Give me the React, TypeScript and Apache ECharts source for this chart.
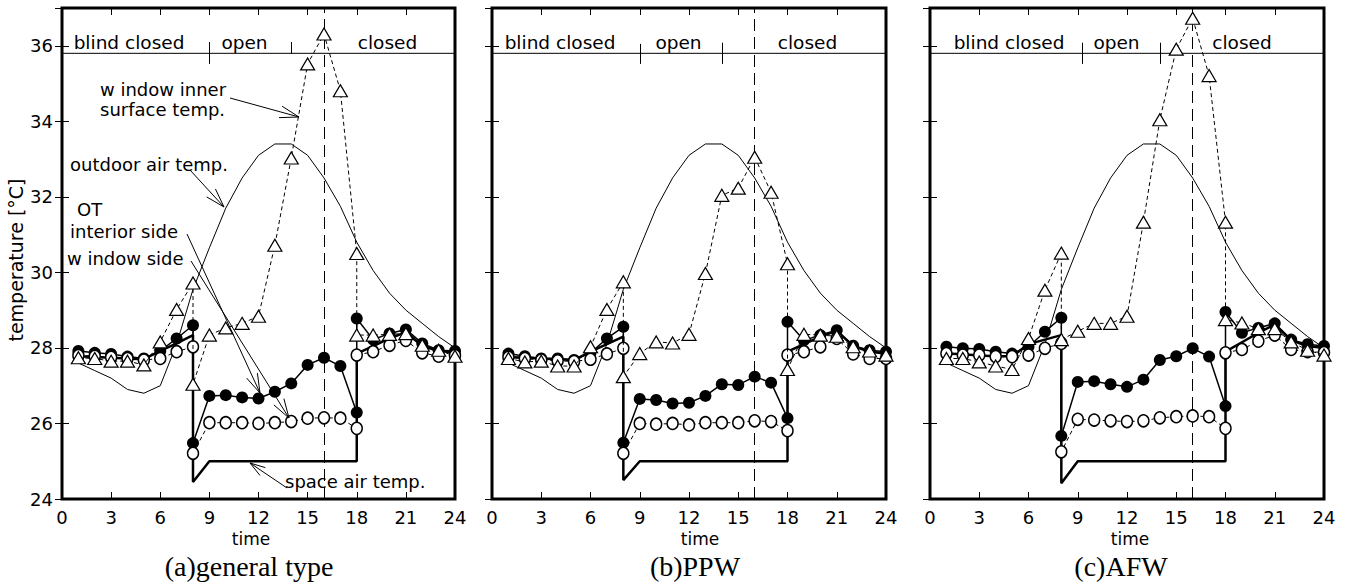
import React, { useEffect, useRef } from "react";
import * as echarts from "echarts";

// ---------------- data ----------------
const hours = [1, 2, 3, 4, 5, 6, 7, 8, 9, 10, 11, 12, 13, 14, 15, 16, 17, 18, 19, 20, 21, 22, 23, 24];
const switchHours = [8, 18];

const outdoorAir = [27.6, 27.4, 27.2, 26.9, 26.8, 27.0, 28.1, 29.55, 30.65, 31.7, 32.5, 33.1, 33.4, 33.4, 33.1, 32.5, 31.75, 30.8, 30.05, 29.45, 29.0, 28.65, 28.3, 28.0];

// (a) general type
const surfA = [27.74, 27.72, 27.65, 27.65, 27.55, 28.16, 29.02, 29.72, 28.34, 28.53, 28.65, 28.84, 30.72, 33.03, 35.52, 36.31, 34.81, 30.5, 28.34, 28.36, 28.38, 28.07, 27.94, 27.78];
const surfJumpA = [27.04, 28.34];
const otWinA = [27.92, 27.87, 27.84, 27.77, 27.72, 27.92, 28.25, 28.6, 26.73, 26.75, 26.69, 26.66, 26.84, 27.06, 27.55, 27.74, 27.52, 26.29, 28.22, 28.38, 28.49, 28.12, 27.94, 27.92];
const otWinJumpA = [25.48, 28.78];
const otIntA = [27.8, 27.78, 27.75, 27.72, 27.68, 27.72, 27.9, 28.03, 26.02, 26.02, 26.02, 26.0, 26.02, 26.05, 26.14, 26.15, 26.14, 25.87, 27.9, 28.07, 28.2, 27.87, 27.78, 27.8];
const otIntJumpA = [25.21, 27.81];
const airA = [27.78, 27.76, 27.74, 27.72, 27.7, 27.92, 28.12, 28.34, 25.0, 25.0, 25.0, 25.0, 25.0, 25.0, 25.0, 25.0, 25.0, 25.0, 28.05, 28.25, 28.42, 28.05, 27.92, 27.88];
const airJumpA = [24.45, 27.85];

// (b) PPW
const surfB = [27.72, 27.63, 27.65, 27.52, 27.52, 28.03, 29.02, 29.75, 27.85, 28.16, 28.13, 28.36, 29.97, 32.04, 32.23, 33.05, 32.12, 30.23, 28.36, 28.34, 28.31, 28.03, 27.92, 27.81];
const surfJumpB = [27.24, 27.43];
const otWinB = [27.85, 27.78, 27.72, 27.72, 27.68, 27.87, 28.25, 28.56, 26.65, 26.62, 26.53, 26.55, 26.73, 27.04, 27.02, 27.24, 27.08, 26.14, 28.2, 28.34, 28.47, 28.06, 27.94, 27.9];
const otWinJumpB = [25.49, 28.69];
const otIntB = [27.75, 27.72, 27.68, 27.66, 27.64, 27.7, 27.84, 27.99, 26.0, 25.98, 26.0, 25.96, 26.02, 26.02, 26.02, 26.07, 26.05, 25.81, 27.9, 28.03, 28.25, 27.84, 27.72, 27.72];
const otIntJumpB = [25.21, 27.81];
const airB = [27.76, 27.74, 27.72, 27.7, 27.68, 27.9, 28.1, 28.3, 25.0, 25.0, 25.0, 25.0, 25.0, 25.0, 25.0, 25.0, 25.0, 25.0, 28.1, 28.3, 28.45, 28.05, 27.9, 27.85];
const airJumpB = [24.5, 27.9];

// (c) AFW
const surfC = [27.72, 27.72, 27.63, 27.52, 27.43, 28.25, 29.53, 30.51, 28.44, 28.65, 28.65, 28.84, 31.33, 34.04, 35.91, 36.73, 35.21, 31.33, 28.66, 28.51, 28.51, 28.16, 27.94, 27.81];
const surfJumpC = [28.22, 28.75];
const otWinC = [28.03, 27.99, 27.97, 27.9, 27.85, 28.03, 28.43, 28.8, 27.1, 27.12, 27.04, 26.97, 27.16, 27.68, 27.78, 27.99, 27.77, 26.46, 28.4, 28.53, 28.65, 28.22, 28.1, 28.05];
const otWinJumpC = [25.67, 28.95];
const otIntC = [27.85, 27.81, 27.81, 27.77, 27.77, 27.81, 27.99, 28.12, 26.11, 26.09, 26.07, 26.05, 26.07, 26.15, 26.18, 26.2, 26.18, 25.87, 27.96, 28.18, 28.34, 27.96, 27.9, 27.88];
const otIntJumpC = [25.25, 27.87];
const airC = [27.85, 27.83, 27.8, 27.78, 27.78, 28.1, 28.22, 28.34, 25.0, 25.0, 25.0, 25.0, 25.0, 25.0, 25.0, 25.0, 25.0, 25.0, 28.15, 28.4, 28.62, 28.2, 28.05, 28.0];
const airJumpC = [24.42, 27.9];

const blindLineTemp = 35.8;
const blindTicksA = [9, 14];
const blindTicksB = [9, 14];
const blindTicksC = [9.25, 14];
const peakHour = 16;

const xTicks = { min: 0, max: 24, interval: 3 };
const yTicks = { min: 24, max: 37, interval: 2, lastLabel: 36 };

const regionLabels = ["blind closed", "open", "closed"];
const captions = ["(a)general type", "(b)PPW", "(c)AFW"];

// ---------------- layout ----------------
const gridLefts = [62, 492, 930];
const gridWidths = [393, 394, 394];
const gridTop = 8;
const gridHeight = 491;
const SANS = "DejaVu Sans";
const SERIF = "Liberation Serif";

function withJumps(values: number[], jumps: number[]) {
  const out: number[][] = [];
  hours.forEach((h, i) => {
    out.push([h, values[i]]);
    const k = switchHours.indexOf(h);
    if (k >= 0) out.push([h, jumps[k]]);
  });
  return out;
}

const panels = [
  { surf: surfA, surfJ: surfJumpA, win: otWinA, winJ: otWinJumpA, int: otIntA, intJ: otIntJumpA, air: airA, airJ: airJumpA, ticks: blindTicksA, blindTickTop: [36.1, 36.1], blindTickBot: [35.52, 35.79] },
  { surf: surfB, surfJ: surfJumpB, win: otWinB, winJ: otWinJumpB, int: otIntB, intJ: otIntJumpB, air: airB, airJ: airJumpB, ticks: blindTicksB, blindTickTop: [36.05, 36.08], blindTickBot: [35.52, 35.52] },
  { surf: surfC, surfJ: surfJumpC, win: otWinC, winJ: otWinJumpC, int: otIntC, intJ: otIntJumpC, air: airC, airJ: airJumpC, ticks: blindTicksC, blindTickTop: [36.08, 36.08], blindTickBot: [35.52, 35.52] },
];

const regionLabelPos = [
  [[129, 42], [244.5, 42], [387.5, 42]],
  [[560, 42], [678.5, 42], [807.5, 42]],
  [[1009, 42], [1116.5, 42], [1242, 42]],
];
const timePos = [[251, 539], [700, 539], [1130, 539]];
const captionPos = [[249, 566], [695, 566], [1121, 566]];

function arrow(x1: number, y1: number, x2: number, y2: number, len = 20, ang = 0.3) {
  const a = Math.atan2(y1 - y2, x1 - x2);
  const els: any[] = [
    { type: "line", shape: { x1, y1, x2, y2 }, style: { stroke: "#000", lineWidth: 1 }, z: 100 },
  ];
  [-ang, ang].forEach((d) => {
    els.push({
      type: "line",
      shape: { x1: x2, y1: y2, x2: x2 + len * Math.cos(a + d), y2: y2 + len * Math.sin(a + d) },
      style: { stroke: "#000", lineWidth: 1 },
      z: 100,
    });
  });
  return els;
}

function text(t: string, x: number, y: number, size: number, align = "left", family = SANS, extra: any = {}) {
  return {
    type: "text",
    x,
    y,
    z: 100,
    ...extra,
    style: { text: t, fill: "#000", fontSize: size, fontFamily: family, align, verticalAlign: "middle" },
  };
}

export default function App() {
  const ref = useRef<HTMLDivElement>(null);
  useEffect(() => {
    if (!ref.current) return;
    const chart = echarts.init(ref.current, null, { renderer: "svg" });

    const grid: any[] = [];
    const xAxis: any[] = [];
    const yAxis: any[] = [];
    const series: any[] = [];
    const tickStyle = { inside: true, length: 7, lineStyle: { color: "#000", width: 1 } };

    panels.forEach((p, i) => {
      grid.push({
        left: gridLefts[i], top: gridTop, width: gridWidths[i], height: gridHeight,
        show: true, borderColor: "#000", borderWidth: 3, backgroundColor: "transparent",
      });
      const xBase = { gridIndex: i, type: "value", min: xTicks.min, max: xTicks.max, interval: xTicks.interval, splitLine: { show: false }, axisLine: { show: false }, axisTick: tickStyle };
      xAxis.push({ ...xBase, position: "bottom", axisLabel: { show: true, color: "#000", fontSize: 18, fontFamily: SANS, margin: 9 } });
      xAxis.push({ ...xBase, position: "top", axisLabel: { show: false } });
      const yBase = { gridIndex: i, type: "value", min: yTicks.min, max: yTicks.max, interval: yTicks.interval, splitLine: { show: false }, axisLine: { show: false }, axisTick: tickStyle };
      yAxis.push({
        ...yBase, position: "left",
        axisLabel: { show: i === 0, color: "#000", fontSize: 18, fontFamily: SANS, margin: 9, formatter: (v: number) => (v > yTicks.lastLabel ? "" : String(v)) },
      });
      yAxis.push({ ...yBase, position: "right", axisLabel: { show: false } });

      const ax = { xAxisIndex: 2 * i, yAxisIndex: 2 * i, silent: true, animation: false };

      series.push({
        ...ax, type: "line", name: "outdoor air temp.", symbol: "none",
        data: hours.map((h, k) => [h, outdoorAir[k]]),
        lineStyle: { color: "#000", width: 1 }, z: 2,
      });
      series.push({
        ...ax, type: "line", name: "blind", symbol: "none",
        data: [[xTicks.min, blindLineTemp], [xTicks.max, blindLineTemp]],
        lineStyle: { color: "#000", width: 1 }, z: 2,
        markLine: {
          silent: true, symbol: ["none", "none"], label: { show: false }, animation: false,
          data: [
            ...p.ticks.map((t, k) => [
              { coord: [t, p.blindTickBot[k]], lineStyle: { color: "#000", width: 1, type: "solid" } },
              { coord: [t, p.blindTickTop[k]] },
            ]),
            [
              { coord: [peakHour, yTicks.min], lineStyle: { color: "#000", width: 1, type: [12, 6] } },
              { coord: [peakHour, yTicks.max] },
            ],
          ],
        },
      });
      series.push({
        ...ax, type: "line", name: "space air temp.", symbol: "none",
        data: withJumps(p.air, p.airJ),
        lineStyle: { color: "#000", width: 2.5 }, z: 3,
      });
      series.push({
        ...ax, type: "line", name: "OT window side", symbol: "circle", symbolSize: 12,
        data: withJumps(p.win, p.winJ),
        lineStyle: { color: "#000", width: 1.5 }, itemStyle: { color: "#000" }, z: 4,
      });
      series.push({
        ...ax, type: "line", name: "OT interior side", symbol: "circle", symbolSize: [11, 12],
        data: withJumps(p.int, p.intJ),
        lineStyle: { color: "#000", width: 1, type: [4, 3] },
        itemStyle: { color: "#fff", borderColor: "#000", borderWidth: 1.5 }, z: 5,
      });
      series.push({
        ...ax, type: "line", name: "window inner surface temp.", symbol: "triangle", symbolSize: [14, 12],
        data: withJumps(p.surf, p.surfJ),
        lineStyle: { color: "#000", width: 1, type: [4, 3] },
        itemStyle: { color: "#fff", borderColor: "#000", borderWidth: 1.2 }, z: 6,
      });
    });

    const graphic: any[] = [];
    regionLabelPos.forEach((pp) => pp.forEach((pos, k) => graphic.push(text(regionLabels[k], pos[0], pos[1], 18.5, "center"))));
    timePos.forEach((pos) => graphic.push(text("time", pos[0], pos[1], 17, "center")));
    captionPos.forEach((pos, k) => graphic.push(text(captions[k], pos[0], pos[1], 28, "center", SERIF)));
    graphic.push(text("temperature [°C]", 16, 260, 19, "center", SANS, { rotation: Math.PI / 2 }));
    graphic.push(text("w indow inner", 100, 89, 18));
    graphic.push(text("surface temp.", 100, 109, 18));
    graphic.push(text("outdoor air temp.", 70, 164, 18));
    graphic.push(text("OT", 77, 209, 18));
    graphic.push(text("interior side", 70, 231, 18));
    graphic.push(text("w indow side", 67, 258, 18));
    graphic.push(text("space air temp.", 285, 481, 18));
    graphic.push(...arrow(230, 98, 299, 117));
    graphic.push(...arrow(190, 170, 224, 207));
    graphic.push(...arrow(187, 234, 260, 393));
    graphic.push(...arrow(191, 261, 289, 418));
    graphic.push(...arrow(287, 488, 250, 463, 16));

    chart.setOption({
      animation: false,
      backgroundColor: "#fff",
      grid,
      xAxis,
      yAxis,
      series,
      graphic,
    });
    return () => chart.dispose();
  }, []);

  return (
    <div
      ref={ref}
      style={{ position: "fixed", left: 0, top: 0, width: 1353, height: 588, background: "#fff" }}
    />
  );
}
